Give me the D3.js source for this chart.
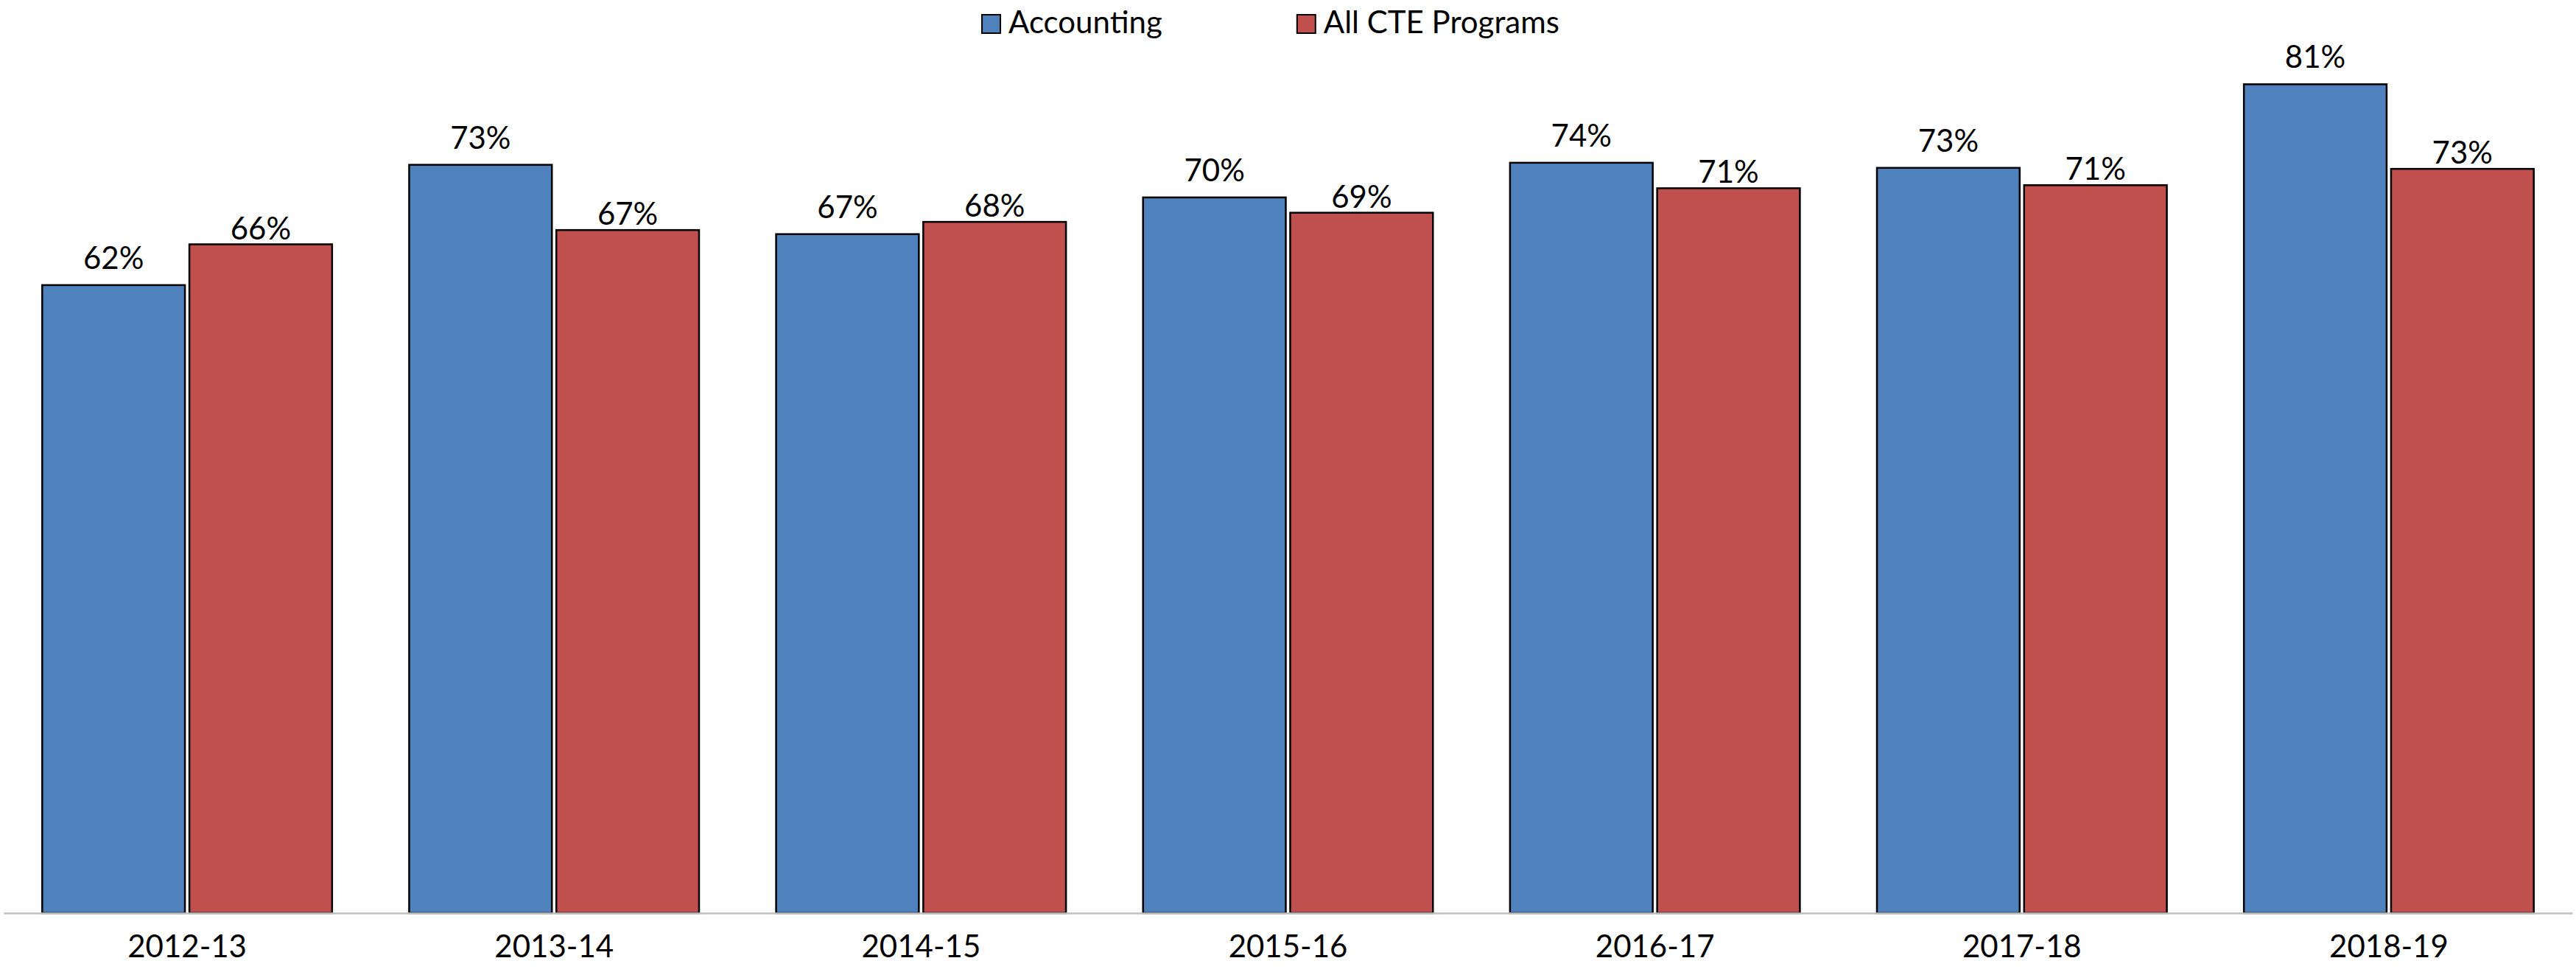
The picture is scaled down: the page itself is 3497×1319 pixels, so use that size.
<!DOCTYPE html>
<html>
<head>
<meta charset="utf-8">
<script src="https://cdn.jsdelivr.net/npm/d3@7"></script>
<style>
  body { margin: 0; background: #fff; }
  svg text { font-family: "Century Gothic", "URW Gothic", Lato, sans-serif; fill: #000; }
</style>
</head>
<body>
<svg id="chart" width="3497" height="1319"></svg>
<script>
// 1. Data
var years = ["2012-13", "2013-14", "2014-15", "2015-16", "2016-17", "2017-18", "2018-19"];
var seriesNames = ["Accounting", "All CTE Programs"];
var accounting = [0.616, 0.734, 0.666, 0.702, 0.736, 0.731, 0.813];
var allCte = [0.656, 0.670, 0.678, 0.687, 0.711, 0.714, 0.730];

// 2. Misc styling
var colours = { "Accounting": "#4F81BD", "All CTE Programs": "#C0504D" };
var labelGap = { "Accounting": 22, "All CTE Programs": 7 };
var fontSize = 42;

var svg = d3.select("#chart");

var rows = years.map(function (y, i) {
    return { year: y, values: [
        { key: seriesNames[0], value: accounting[i] },
        { key: seriesNames[1], value: allCte[i] }
    ] };
});

// 3. Scales
var x0 = d3.scaleBand()
    .domain(years)
    .range([5, 3492])
    .paddingInner(0.21)
    .paddingOuter(0.105);

var x1 = d3.scaleBand()
    .domain(seriesNames)
    .range([0, x0.bandwidth()])
    .paddingInner(0.03);

var y = d3.scaleLinear()
    .domain([0, 0.9])
    .range([1239, -6]);

// 4. Bars
var groups = svg.selectAll("g.year")
    .data(rows)
    .enter()
    .append("g")
    .attr("class", "year")
    .attr("transform", function (d) { return "translate(" + x0(d.year) + ",0)" });

groups.selectAll("rect")
    .data(function (d) { return d.values })
    .enter()
    .append("rect")
    .attr("x", function (d) { return x1(d.key) })
    .attr("y", function (d) { return y(d.value) })
    .attr("width", x1.bandwidth())
    .attr("height", function (d) { return y(0) - y(d.value) })
    .style("fill", function (d) { return colours[d.key] })
    .attr("stroke", "#000")
    .attr("stroke-width", 2.5);

groups.selectAll("text.val")
    .data(function (d) { return d.values })
    .enter()
    .append("text")
    .attr("class", "val")
    .attr("x", function (d) { return x1(d.key) + x1.bandwidth() / 2 })
    .attr("y", function (d) { return y(d.value) - labelGap[d.key] })
    .attr("text-anchor", "middle")
    .style("font-size", fontSize + "px")
    .text(function (d) { return d3.format(".0%")(d.value) });

// 5. Axis
var xAxis = svg.append("g")
    .attr("transform", "translate(0," + y(0) + ")")
    .call(d3.axisBottom(x0).tickSize(0).tickPadding(30));

xAxis.select(".domain").attr("stroke", "#BFBFBF").attr("stroke-width", 2.5);
xAxis.selectAll("text")
    .style("font-size", fontSize + "px")
    .attr("dy", "0.71em");

// 6. Legend
var legend = svg.append("g").attr("class", "legend");
var cursor = 0;
seriesNames.forEach(function (name, i) {
    var item = legend.append("g").attr("transform", "translate(" + cursor + ",0)");
    item.append("rect")
        .attr("x", 0).attr("y", 20)
        .attr("width", 25).attr("height", 25)
        .style("fill", colours[name])
        .attr("stroke", "#000")
        .attr("stroke-width", 2);
    var t = item.append("text")
        .attr("x", 36).attr("y", 45)
        .style("font-size", fontSize + "px")
        .text(name);
    cursor += 36 + t.node().getComputedTextLength() + (i < seriesNames.length - 1 ? 183 : 0);
});
legend.attr("transform", "translate(" + (1725 - cursor / 2) + ",0)");
</script>
</body>
</html>
